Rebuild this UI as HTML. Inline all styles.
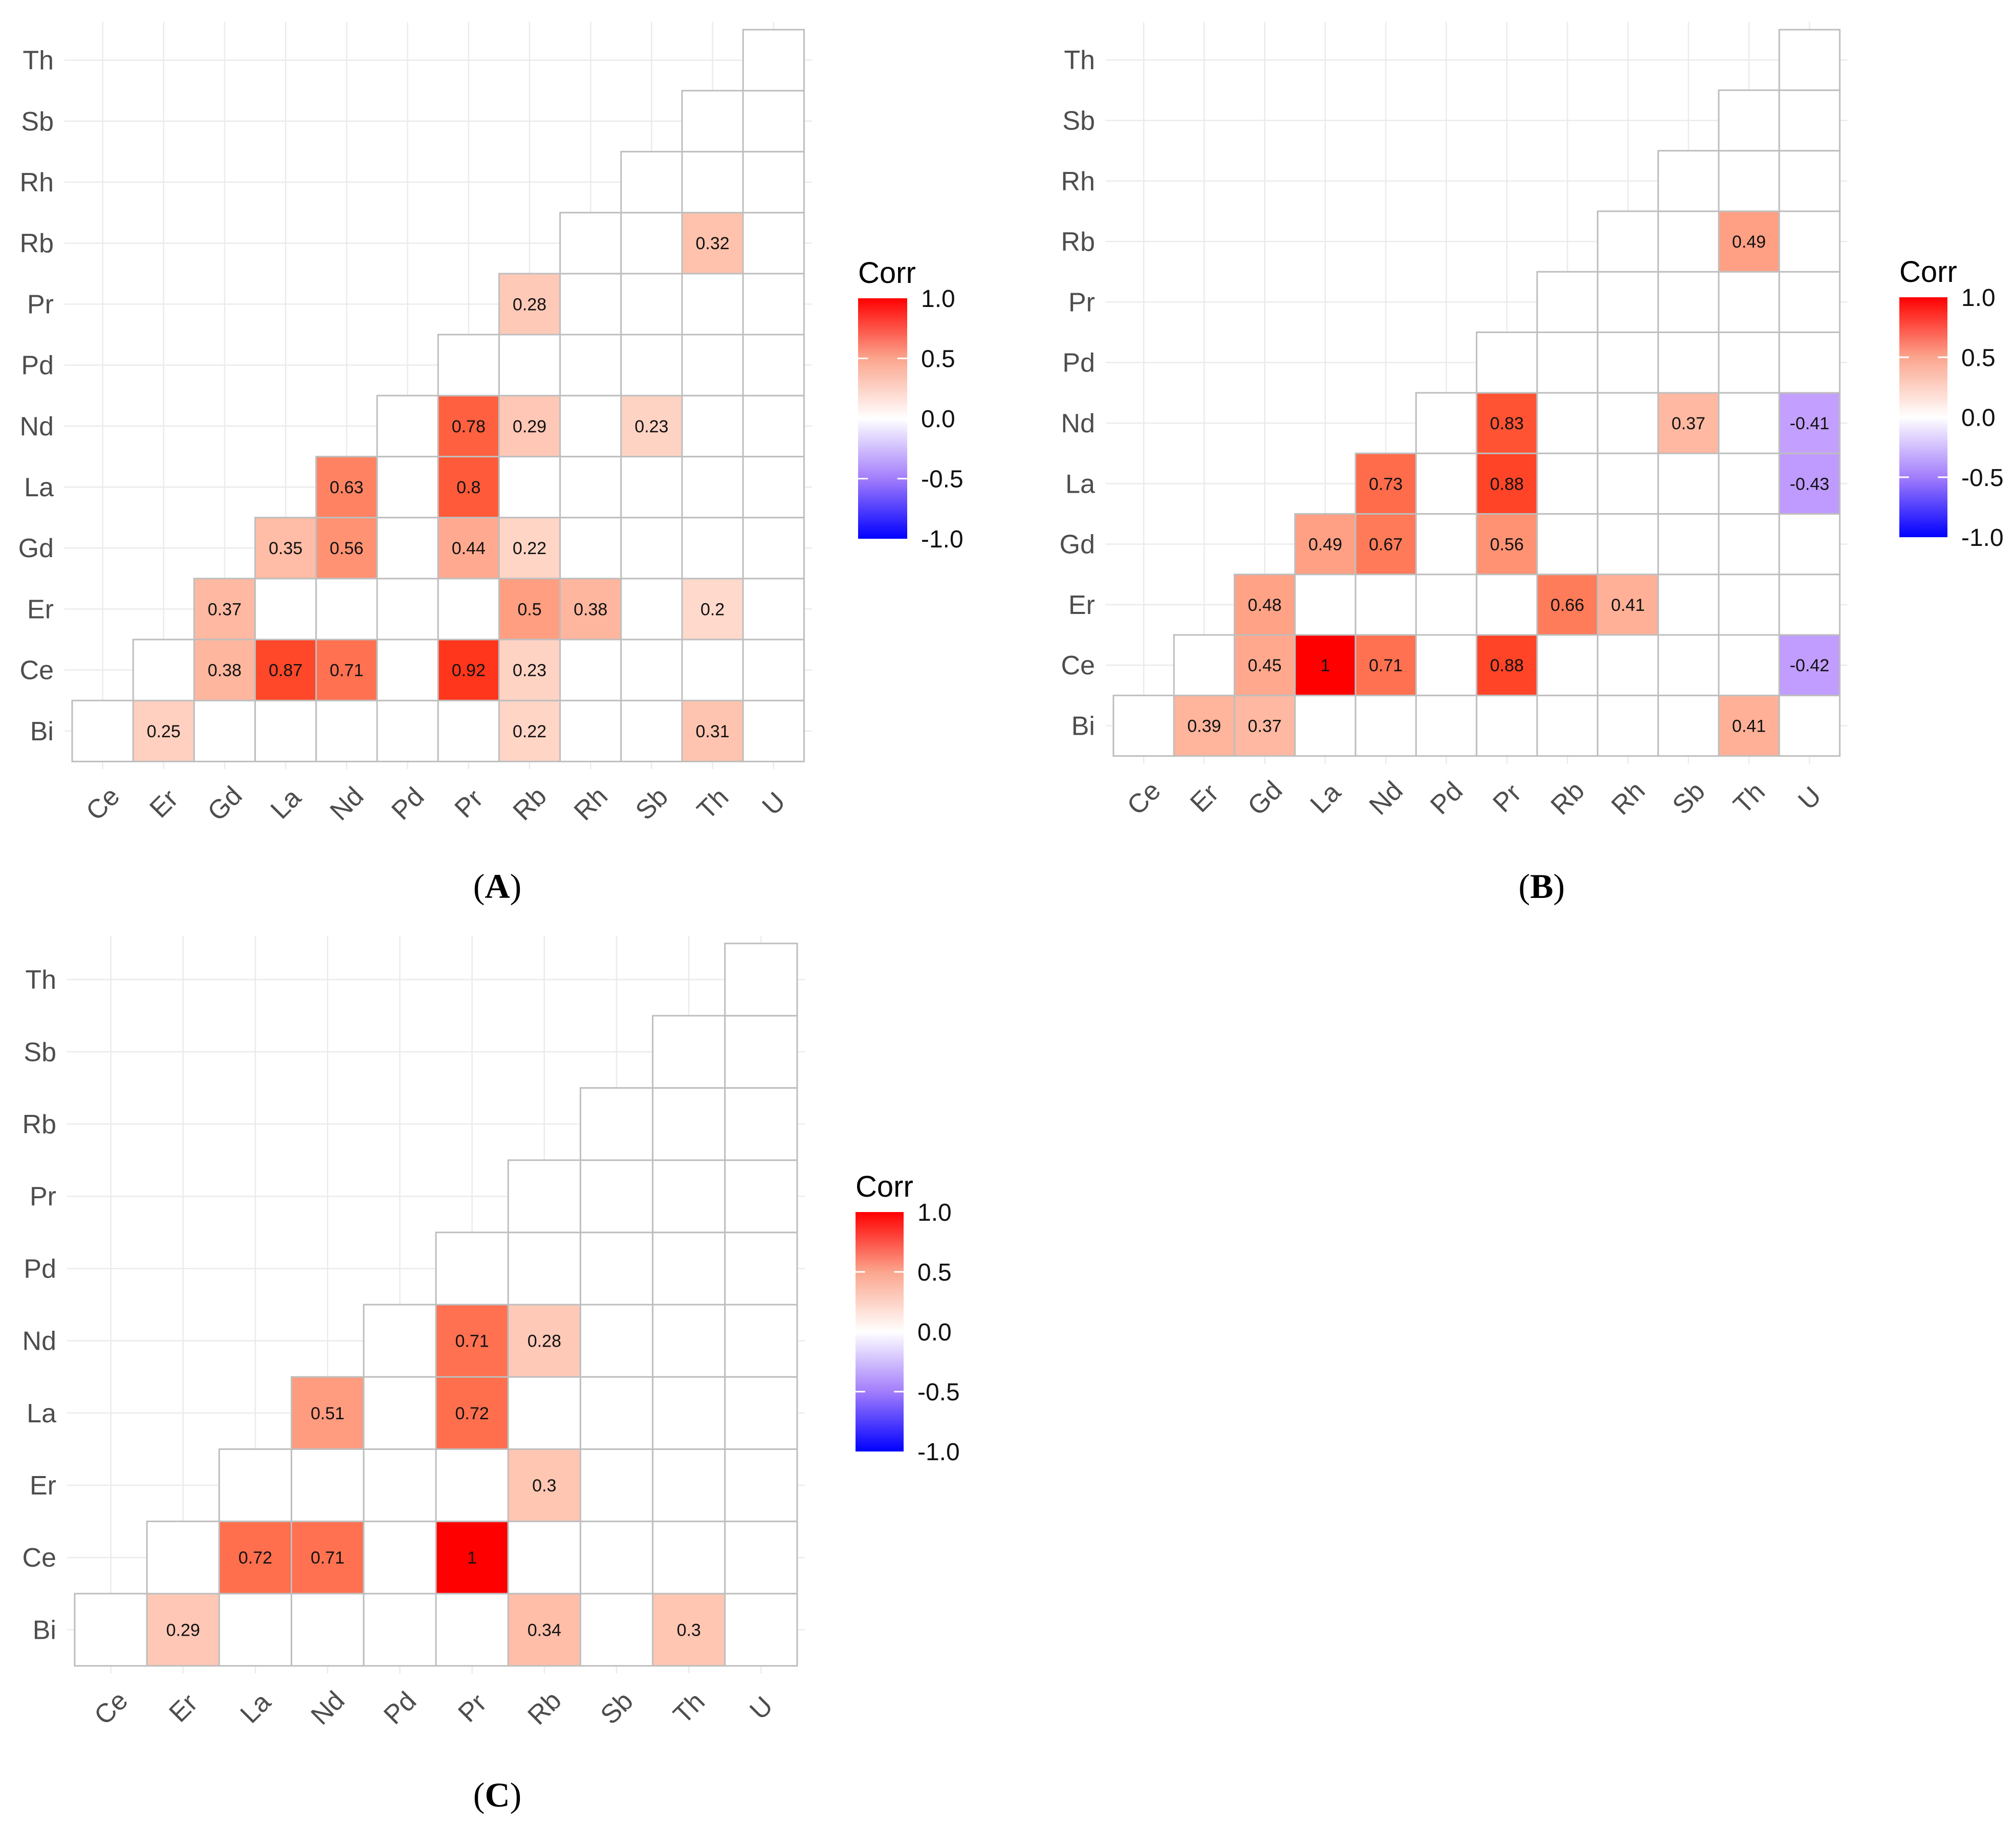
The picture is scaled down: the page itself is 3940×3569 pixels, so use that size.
<!DOCTYPE html>
<html><head><meta charset="utf-8">
<style>
html,body{margin:0;padding:0;background:#fff;}
svg{display:block;}
text{font-family:"Liberation Sans",sans-serif;}
</style></head>
<body>
<svg id="fig" xmlns="http://www.w3.org/2000/svg" width="3940" height="3569" viewBox="0 0 3940 3569">
<rect width="3940" height="3569" fill="#fff"/>
<defs>
<linearGradient id="cbar" x1="0" y1="1" x2="0" y2="0">
<stop offset="0" stop-color="#0000ff"/>
<stop offset="0.25" stop-color="#a27dfb"/>
<stop offset="0.5" stop-color="#ffffff"/>
<stop offset="0.75" stop-color="#fba58d"/>
<stop offset="1" stop-color="#ff0000"/>
</linearGradient>
</defs>
</svg>
<script>
// ---------- Panel A data ----------
const labelsA = ["Ce","Er","Gd","La","Nd","Pd","Pr","Rb","Rh","Sb","Th","U"];
const rowLabelsA = ["Bi","Ce","Er","Gd","La","Nd","Pd","Pr","Rb","Rh","Sb","Th"];
const cellRowA = ["Bi","Bi","Bi","Ce","Ce","Ce","Ce","Ce","Er","Er","Er","Er","Gd","Gd","Gd","Gd","La","La","Nd","Nd","Nd","Pr","Rb"];
const cellColA = ["Er","Rb","Th","Gd","La","Nd","Pr","Rb","Gd","Rb","Rh","Th","La","Nd","Pr","Rb","Nd","Pr","Pr","Rb","Sb","Rb","Th"];
const cellValA = [0.25,0.22,0.31,0.38,0.87,0.71,0.92,0.23,0.37,0.5,0.38,0.2,0.35,0.56,0.44,0.22,0.63,0.8,0.78,0.29,0.23,0.28,0.32];
// ---------- Panel B data ----------
const labelsB = ["Ce","Er","Gd","La","Nd","Pd","Pr","Rb","Rh","Sb","Th","U"];
const rowLabelsB = ["Bi","Ce","Er","Gd","La","Nd","Pd","Pr","Rb","Rh","Sb","Th"];
const cellRowB = ["Bi","Bi","Bi","Ce","Ce","Ce","Ce","Ce","Er","Er","Er","Gd","Gd","Gd","La","La","La","Nd","Nd","Nd","Rb"];
const cellColB = ["Er","Gd","Th","Gd","La","Nd","Pr","U","Gd","Rb","Rh","La","Nd","Pr","Nd","Pr","U","Pr","Sb","U","Th"];
const cellValB = [0.39,0.37,0.41,0.45,1,0.71,0.88,-0.42,0.48,0.66,0.41,0.49,0.67,0.56,0.73,0.88,-0.43,0.83,0.37,-0.41,0.49];
// ---------- Panel C data ----------
const labelsC = ["Ce","Er","La","Nd","Pd","Pr","Rb","Sb","Th","U"];
const rowLabelsC = ["Bi","Ce","Er","La","Nd","Pd","Pr","Rb","Sb","Th"];
const cellRowC = ["Bi","Bi","Bi","Ce","Ce","Ce","Er","La","La","Nd","Nd"];
const cellColC = ["Er","Rb","Th","La","Nd","Pr","Rb","Nd","Pr","Pr","Rb"];
const cellValC = [0.29,0.34,0.3,0.72,0.71,1,0.3,0.51,0.72,0.71,0.28];
const legendTicks = [1.0,0.5,0.0,-0.5,-1.0];
const legendTickLabels = ["1.0","0.5","0.0","-0.5","-1.0"];

const NS="http://www.w3.org/2000/svg";
const svg=document.getElementById('fig');
function mk(tag,attrs,parent){const e=document.createElementNS(NS,tag);for(const k in attrs)e.setAttribute(k,attrs[k]);(parent||svg).appendChild(e);return e;}

function s2l(c){c/=255;return c<=0.04045?c/12.92:Math.pow((c+0.055)/1.055,2.4);}
function l2s(c){c=c<=0.0031308?12.92*c:1.055*Math.pow(c,1/2.4)-0.055;return Math.max(0,Math.min(255,Math.round(c*255)));}
function toLab(rgb){const r=s2l(rgb[0]),g=s2l(rgb[1]),b=s2l(rgb[2]);
 let x=(0.4124*r+0.3576*g+0.1805*b)/0.95047,y=(0.2126*r+0.7152*g+0.0722*b),z=(0.0193*r+0.1192*g+0.9505*b)/1.08883;
 const f=t=>t>0.008856?Math.cbrt(t):7.787*t+16/116;x=f(x);y=f(y);z=f(z);return [116*y-16,500*(x-y),200*(y-z)];}
function fromLab(l){let y=(l[0]+16)/116,x=l[1]/500+y,z=y-l[2]/200;
 const fi=t=>t*t*t>0.008856?t*t*t:(t-16/116)/7.787;x=fi(x)*0.95047;y=fi(y);z=fi(z)*1.08883;
 const r=3.2406*x-1.5372*y-0.4986*z,g=-0.9689*x+1.8758*y+0.0415*z,b=0.0557*x-0.204*y+1.057*z;
 return 'rgb('+l2s(r)+','+l2s(g)+','+l2s(b)+')';}
const LW=toLab([255,255,255]),LR=toLab([255,0,0]),LB=toLab([0,0,255]);
function colorFor(v){const t=Math.min(1,Math.abs(v));const e=v>=0?LR:LB;return fromLab([0,1,2].map(i=>LW[i]+(e[i]-LW[i])*t));}

function panel(name,cols,rows,cr,cc,cv,geo){
 const g=mk('g',{});
 
 
 const n=cols.length,c=geo.cell,x0=geo.x0,y0=geo.y0,W=n*c,H=rows.length*c;
 const xS=j=>x0+j*c, yS=i=>y0+H-(i+1)*c;
 for(let j=0;j<n;j++){const l=mk('line',{x1:xS(j)+c/2,x2:xS(j)+c/2,y1:y0-15,y2:y0+H+15,stroke:'#ebebeb','stroke-width':2.5},g);
  }
 for(let i=0;i<rows.length;i++){const l=mk('line',{x1:x0-15,x2:x0+W+15,y1:yS(i)+c/2,y2:yS(i)+c/2,stroke:'#ebebeb','stroke-width':2.5},g);
  }
 const lookup={};cr.forEach((r,k)=>lookup[r+'|'+cc[k]]=cv[k]);
 for(let i=0;i<rows.length;i++)for(let j=i;j<n;j++){
  const v=lookup[rows[i]+'|'+cols[j]];
  const r=mk('rect',{x:xS(j),y:yS(i),width:c,height:c,fill:v===undefined?'#fff':colorFor(v),stroke:'#bebebe','stroke-width':3},g);
  
  
 }
 cr.forEach((r,k)=>{const i=rows.indexOf(r),j=cols.indexOf(cc[k]);
  const t=mk('text',{x:xS(j)+c/2,y:yS(i)+c/2+12,'text-anchor':'middle','font-size':34,fill:'#111'},g);
  t.textContent=String(cv[k]);
  
  });
 rows.forEach((r,i)=>{const t=mk('text',{x:x0-36,y:yS(i)+c/2+18,'text-anchor':'end','font-size':52,fill:'#4d4d4d'},g);
  t.textContent=r;});
 cols.forEach((r,j)=>{const cx=xS(j)+c/2,cy=y0+H+82;
  const t=mk('text',{x:cx,y:cy+18,'text-anchor':'middle','font-size':52,fill:'#4d4d4d',transform:'rotate(-45 '+cx+' '+cy+')'},g);
  t.textContent=r;});
 const L=geo.leg;
 const tt=mk('text',{x:L.x,y:L.top-30,'font-size':58,fill:'#000'},g);tt.textContent='Corr';
 
 const bar=mk('rect',{x:L.x,y:L.top,width:L.w,height:L.bot-L.top,fill:'url(#cbar)'},g);
 
 const vy=v=>L.bot-(v+1)/2*(L.bot-L.top);
 legendTicks.forEach((v,k)=>{const y=vy(v);
  if(Math.abs(v)<1){mk('line',{x1:L.x,x2:L.x+L.w*0.2,y1:y,y2:y,stroke:'#fff','stroke-width':3},g);
   mk('line',{x1:L.x+L.w*0.8,x2:L.x+L.w,y1:y,y2:y,stroke:'#fff','stroke-width':3},g);}
  const t=mk('text',{x:L.x+L.w+27,y:y+17,'font-size':48,fill:'#111'},g);t.textContent=legendTickLabels[k];
  });
 const cap=mk('text',{x:geo.capX,y:geo.capY,'text-anchor':'middle','font-size':68,fill:'#000',style:'font-family:"Liberation Serif",serif'},g);
 cap.innerHTML='(<tspan font-weight="bold">'+geo.cap+'</tspan>)';
 
}
panel('panel-a',labelsA,rowLabelsA,cellRowA,cellColA,cellValA,{x0:141,y0:58,cell:119.2,leg:{x:1677,w:96,top:583,bot:1053},capX:972,capY:1755,cap:'A'});
panel('panel-b',labelsB,rowLabelsB,cellRowB,cellColB,cellValB,{x0:2176,y0:58,cell:118.3,leg:{x:3712,w:94,top:581,bot:1050},capX:3013,capY:1755,cap:'B'});
panel('panel-c',labelsC,rowLabelsC,cellRowC,cellColC,cellValC,{x0:146,y0:1844,cell:141.2,leg:{x:1672,w:94,top:2369,bot:2837},capX:972,capY:3531,cap:'C'});
</script>
</body></html>
